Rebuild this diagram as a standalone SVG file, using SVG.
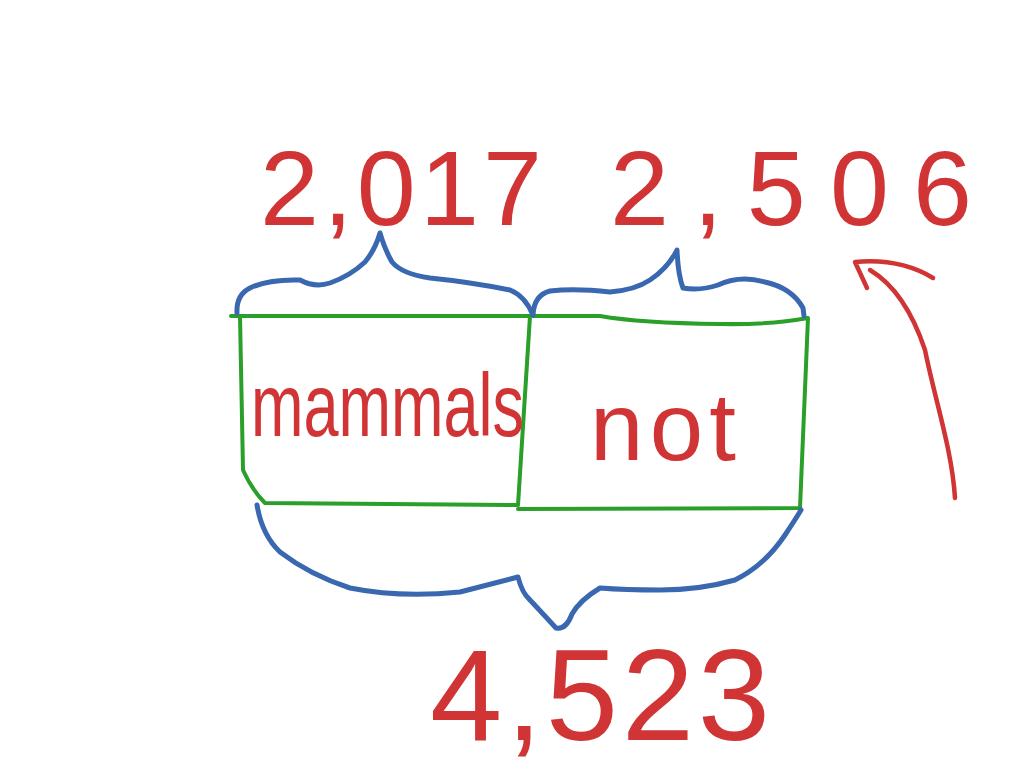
<svg xmlns="http://www.w3.org/2000/svg" width="1024" height="768" viewBox="0 0 1024 768">
<style>
.g{fill:none;stroke:#2a9f2a;stroke-width:4;stroke-linecap:round;stroke-linejoin:round}
.b{fill:none;stroke:#3a68b0;stroke-width:5;stroke-linecap:round;stroke-linejoin:round}
.r{fill:none;stroke:#d03434;stroke-width:4.5;stroke-linecap:round;stroke-linejoin:round}
.t{fill:#d03434;font-family:"Liberation Sans",Arial,sans-serif}
</style>
<rect width="1024" height="768" fill="#ffffff"/>
<g id="box-mammals">
<path class="g" d="M231 316 L530 316 L518 505 L265 503 Q252 490 243 470 L240 316"/>
<text class="t" transform="translate(251,436) scale(1,1.4)" x="0" y="0" font-size="63">mammals</text>
</g>
<g id="box-not">
<path class="g" d="M530 316 L600 316 Q640 323 720 324 Q770 325 808 318 L800 508 L518 509"/>
<text class="t" x="590" y="460" font-size="96" textLength="146" lengthAdjust="spacing">not</text>
</g>
<g id="labels">
<text class="t" x="260" y="225" font-size="106" textLength="282" lengthAdjust="spacing">2,017</text>
<text class="t" x="610" y="225" font-size="106" textLength="362" lengthAdjust="spacing">2,506</text>
<text class="t" x="430" y="740" font-size="130" textLength="340" lengthAdjust="spacing">4,523</text>
</g>
<g id="connectors">
<path class="b" d="M237 313 Q236 295 250 288 Q268 279 300 280 Q315 288 330 283 Q350 276 365 262 Q375 250 380 233 Q385 250 392 262 Q402 274 430 278 Q470 282 510 290 Q525 296 533 315"/>
<path class="b" d="M533 315 Q534 295 550 291 Q575 288 610 292 Q635 290 650 280 Q668 268 677 250 Q678 275 683 288 Q700 291 718 285 Q740 275 765 282 Q792 288 803 308 L804 316"/>
<path class="b" d="M257 505 Q262 535 280 552 Q310 575 350 588 Q400 598 460 592 Q495 583 518 577 Q522 593 530 600 Q545 616 556 628 Q566 630 572 614 Q580 600 600 588 Q625 590 660 590 Q700 590 735 580 Q765 565 785 535 Q795 520 801 510"/>
<path class="r" d="M955 498 C952 450 935 400 925 350 C910 305 890 282 870 270"/>
<path class="r" d="M867 288 L855 262 Q900 258 933 278"/>
</g>
</svg>
